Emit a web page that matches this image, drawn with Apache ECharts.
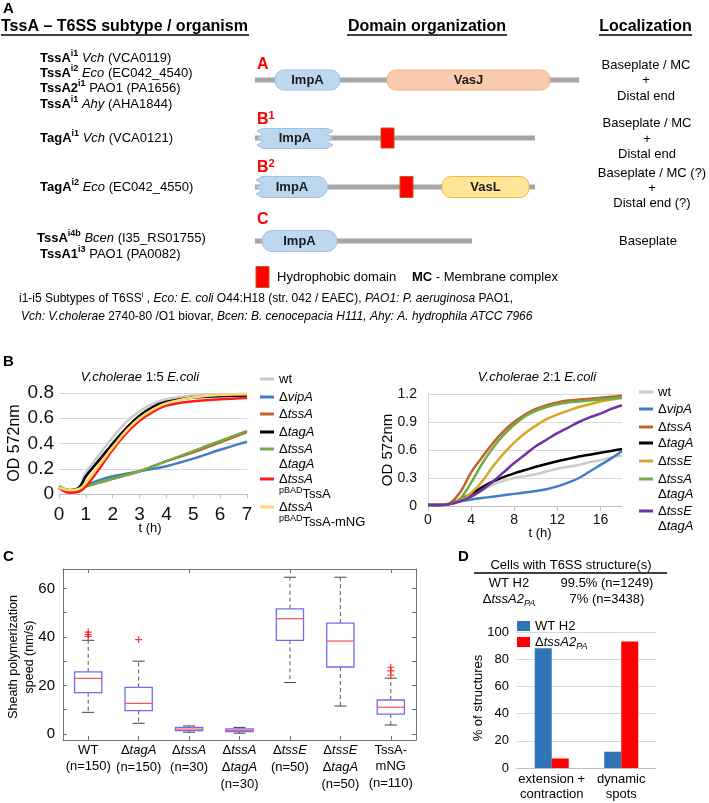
<!DOCTYPE html>
<html>
<head>
<meta charset="utf-8">
<title>TssA / TagA figure</title>
<script src="https://cdn.jsdelivr.net/npm/echarts@6.0.0/dist/echarts.min.js"></script>
<style>
  html, body { margin: 0; padding: 0; background: #fff; }
  #fig { width: 709px; height: 803px; }
</style>
</head>
<body>
<div id="fig"></div>
<script>
// ---------- data ----------
// B left: V.cholerae 1:5 E.coli, OD 572nm vs t (h)
const tLeft = [0, 0.4, 0.75, 1, 1.5, 2, 2.5, 3, 3.5, 4, 5, 6, 7];
const leftNames = ['wt', 'ΔvipA', 'ΔtssA', 'ΔtagA', 'ΔtssA ΔtagA', 'ΔtssA pBADTssA', 'ΔtssA pBADTssA-mNG'];
const leftWt       = [0.05, 0.03, 0.06, 0.17, 0.31, 0.45, 0.57, 0.655, 0.715, 0.75, 0.78, 0.79, 0.795];
const leftVipA     = [0.05, 0.03, 0.04, 0.07, 0.11, 0.14, 0.16, 0.18, 0.20, 0.22, 0.28, 0.35, 0.415];
const leftTssA     = [0.06, 0.03, 0.04, 0.06, 0.09, 0.12, 0.15, 0.18, 0.22, 0.26, 0.33, 0.41, 0.49];
const leftTagA     = [0.05, 0.03, 0.05, 0.14, 0.27, 0.40, 0.52, 0.62, 0.69, 0.73, 0.765, 0.775, 0.78];
const leftTssATagA = [0.06, 0.03, 0.04, 0.06, 0.09, 0.12, 0.15, 0.18, 0.22, 0.26, 0.34, 0.42, 0.50];
const leftPTssA    = [0.05, 0.01, 0.02, 0.06, 0.20, 0.35, 0.48, 0.58, 0.65, 0.70, 0.735, 0.75, 0.76];
const leftPTssAmNG = [0.05, 0.03, 0.04, 0.09, 0.23, 0.37, 0.50, 0.60, 0.67, 0.72, 0.765, 0.785, 0.79];

// B right: V.cholerae 2:1 E.coli
const tRight = [0, 1, 2, 3, 4, 5, 6, 7, 8, 9, 10, 11, 12, 13, 14, 15, 16, 17, 18];
const rightNames = ['wt', 'ΔvipA', 'ΔtssA', 'ΔtagA', 'ΔtssE', 'ΔtssA ΔtagA', 'ΔtssE ΔtagA'];
const rightWt       = [0.01, 0.01, 0.02, 0.06, 0.11, 0.17, 0.23, 0.27, 0.30, 0.32, 0.34, 0.37, 0.40, 0.42, 0.44, 0.47, 0.49, 0.52, 0.54];
const rightVipA     = [0.01, 0.01, 0.02, 0.05, 0.07, 0.085, 0.10, 0.115, 0.13, 0.145, 0.16, 0.18, 0.21, 0.25, 0.30, 0.37, 0.44, 0.51, 0.59];
const rightTssA     = [0.01, 0.01, 0.03, 0.15, 0.36, 0.52, 0.67, 0.80, 0.90, 0.98, 1.04, 1.08, 1.11, 1.13, 1.14, 1.15, 1.16, 1.17, 1.18];
const rightTagA     = [0.01, 0.01, 0.02, 0.07, 0.13, 0.20, 0.26, 0.31, 0.35, 0.385, 0.42, 0.45, 0.48, 0.505, 0.53, 0.55, 0.57, 0.59, 0.61];
const rightTssE     = [0.01, 0.01, 0.02, 0.06, 0.14, 0.26, 0.42, 0.56, 0.68, 0.78, 0.86, 0.93, 0.98, 1.02, 1.06, 1.09, 1.12, 1.14, 1.16];
const rightTssATagA = [0.01, 0.01, 0.02, 0.08, 0.25, 0.45, 0.62, 0.76, 0.87, 0.96, 1.02, 1.06, 1.09, 1.11, 1.12, 1.13, 1.14, 1.15, 1.16];
const rightTssETagA = [0.01, 0.01, 0.02, 0.05, 0.10, 0.17, 0.26, 0.36, 0.46, 0.55, 0.64, 0.71, 0.78, 0.84, 0.90, 0.95, 0.99, 1.04, 1.08];

// C: sheath polymerization speed (nm/s), box plot
const cCats = ['WT\n(n=150)', 'ΔtagA\n(n=150)', 'ΔtssA\n(n=30)', 'ΔtssA\nΔtagA\n(n=30)',
               'ΔtssE\n(n=50)', 'ΔtssE\nΔtagA\n(n=50)', 'TssA-\nmNG\n(n=110)'];
const cLow  = [8.9, 4.4, 0.7, 0.3, 21.2, 11.5, 3.7];
const cQ1   = [17.0, 9.6, 1.4, 1.0, 38.6, 27.6, 8.2];
const cMed  = [22.9, 12.6, 2.0, 1.5, 47.5, 38.3, 11.0];
const cQ3   = [25.6, 19.2, 2.7, 2.05, 51.6, 45.7, 14.0];
const cHigh = [38.6, 30.0, 3.3, 2.7, 64.6, 64.6, 23.0];
const cOutCat = [0, 0, 0, 1, 6, 6, 6];
const cOutVal = [40.2, 41.0, 42.0, 38.9, 24.2, 26.0, 27.5];
const cTicks = [0, 10, 20, 30, 40, 50, 60];
const cLabels = [0, 20, 40, 60];

// D: % of structures
const dCats = ['extension +\ncontraction', 'dynamic\nspots'];
const dNames = ['WT H2', 'ΔtssA2_PA'];
const dWt = [88, 12];
const dTssA2 = [7, 93];
const tableGroups = ['WT H2', 'ΔtssA2_PA'];
const tableValues = ['99.5% (n=1249)', '7% (n=3438)'];

// ---------- styling helpers ----------
const FF = '"Liberation Sans", Arial, Helvetica, sans-serif';
const leftColors = ['#c9c9c9', '#3f7ec4', '#c4622d', '#000000', '#6fac46', '#ff1a1a', '#ffd966'];
const rightColors = ['#cccccc', '#3f7ec4', '#c4622d', '#000000', '#d8a526', '#6fac46', '#7232a6'];

function rich(size) {
  const s = Math.round(size * 0.7);
  const lh = size + 4;
  return {
    i: {fontSize: size, fontFamily: FF, fontStyle: 'italic', lineHeight: lh},
    b: {fontSize: size, fontFamily: FF, fontWeight: 'bold', lineHeight: lh},
    sup: {fontSize: s, fontFamily: FF, verticalAlign: 'top', lineHeight: s},
    bsup: {fontSize: s, fontFamily: FF, fontWeight: 'bold', verticalAlign: 'top', lineHeight: s},
    isub: {fontSize: s, fontFamily: FF, fontStyle: 'italic', verticalAlign: 'bottom', lineHeight: s},
    rsup: {fontSize: 11, fontFamily: FF, fontWeight: 'bold', fill: '#ff0000', verticalAlign: 'top', lineHeight: 10}
  };
}

// Δgene -> italic gene, _XX -> italic subscript, pBAD -> superscript
function fmtGene(s) {
  return s.split('\n').map(function (line) {
    return line.split(' ').map(function (w) {
      if (w.charAt(0) === 'Δ') {
        let g = w.slice(1), sub = '';
        const k = g.indexOf('_');
        if (k >= 0) { sub = '{isub|' + g.slice(k + 1) + '}'; g = g.slice(0, k); }
        return 'Δ{i|' + g + '}' + sub;
      }
      if (w.indexOf('pBAD') === 0) return '{sup|pBAD}' + w.slice(4);
      return w;
    }).join(' ');
  }).join('\n');
}

function T(x, y, text, size, extra) {
  return {
    type: 'text', x: x, y: y, silent: true,
    style: Object.assign({
      text: text, fontSize: size, fontFamily: FF, fill: '#000',
      lineHeight: size + 4, align: 'left', verticalAlign: 'middle', rich: rich(size)
    }, extra || {})
  };
}
function TV(x, y, text, size) {
  const t = T(x, y, text, size, {align: 'center'});
  t.rotation = Math.PI / 2;
  return t;
}
function L(x1, y1, x2, y2, color, w) {
  return {type: 'line', silent: true, shape: {x1: x1, y1: y1, x2: x2, y2: y2}, style: {stroke: color, lineWidth: w}};
}
function R(x, y, w, h, r, fill, stroke) {
  return {type: 'rect', silent: true, shape: {x: x, y: y, width: w, height: h, r: r},
          style: {fill: fill, stroke: stroke, lineWidth: stroke ? 1 : 0}};
}

// ---------- panel A (schematic) ----------
const IMP_FILL = '#bdd7ee', IMP_LINE = '#9cc2e5', BAR = '#a6a6a6';
const g = [];
g.push(T(3, 9, 'A', 15, {fontWeight: 'bold'}));
g.push(T(1, 27, 'TssA – T6SS subtype / organism', 16, {fontWeight: 'bold'}));
g.push(T(427, 27, 'Domain organization', 16, {fontWeight: 'bold', align: 'center'}));
g.push(T(645.5, 27, 'Localization', 16, {fontWeight: 'bold', align: 'center'}));
g.push(L(1, 35, 249, 35, '#000', 1.5), L(347, 35, 507, 35, '#000', 1.5), L(599, 35, 692, 35, '#000', 1.5));

const orgRows = [
  [40, 58, '{b|TssA}{bsup|i1} {i|Vch} (VCA0119)'],
  [40, 73, '{b|TssA}{bsup|i2} {i|Eco} (EC042_4540)'],
  [40, 88, '{b|TssA2}{bsup|i1} PAO1 (PA1656)'],
  [40, 104, '{b|TssA}{bsup|i1} {i|Ahy} (AHA1844)'],
  [40, 138, '{b|TagA}{bsup|i1} {i|Vch} (VCA0121)'],
  [40, 187, '{b|TagA}{bsup|i2} {i|Eco} (EC042_4550)'],
  [37, 238, '{b|TssA}{bsup|i4b} {i|Bcen} (I35_RS01755)'],
  [40, 254, '{b|TssA1}{bsup|i3} PAO1 (PA0082)']
];
orgRows.forEach(function (r) { g.push(T(r[0], r[1], r[2], 13)); });

const locRows = [
  [646, 65, 'Baseplate / MC'], [646, 80, '+'], [646, 96, 'Distal end'],
  [647, 123, 'Baseplate / MC'], [647, 139, '+'], [647, 154, 'Distal end'],
  [652, 173, 'Baseplate / MC (?)'], [652, 188, '+'], [652, 203, 'Distal end (?)'],
  [648, 241, 'Baseplate']
];
locRows.forEach(function (r) { g.push(T(r[0], r[1], r[2], 13, {align: 'center'})); });

// red class labels
g.push(T(257, 65, 'A', 16, {fontWeight: 'bold', fill: '#ff0000'}));
g.push(T(257, 120, 'B{rsup|1}', 16, {fontWeight: 'bold', fill: '#ff0000'}));
g.push(T(257, 168, 'B{rsup|2}', 16, {fontWeight: 'bold', fill: '#ff0000'}));
g.push(T(257, 220, 'C', 16, {fontWeight: 'bold', fill: '#ff0000'}));

// row A
g.push(R(255, 77.5, 324, 5, 0, BAR));
g.push(R(275, 70, 65, 20, 9, IMP_FILL, IMP_LINE));
g.push(R(387, 70, 163, 20, 9, '#f8cbad', '#f4b183'));
g.push(T(307.5, 80, 'ImpA', 13, {fontWeight: 'bold', align: 'center', fill: '#1a1a1a'}));
g.push(T(468.5, 80, 'VasJ', 13, {fontWeight: 'bold', align: 'center', fill: '#1a1a1a'}));
// row B1
g.push(R(255, 135.5, 280, 5, 0, BAR));
g.push({type: 'polygon', silent: true, shape: {points: [
  [263, 128.5], [327, 128.5], [333, 131], [327, 134.5], [333, 138], [327, 141.5], [333, 145], [327, 148.5],
  [263, 148.5], [257, 145], [263, 141.5], [257, 138], [263, 134.5], [257, 131]]},
  style: {fill: IMP_FILL, stroke: IMP_LINE, lineWidth: 1}});
g.push(T(295, 138.5, 'ImpA', 13, {fontWeight: 'bold', align: 'center', fill: '#1a1a1a'}));
g.push(R(381, 128, 13, 20, 0, '#ff0000', '#c55a11'));
// row B2
g.push(R(255, 184.5, 280, 5, 0, BAR));
const b2pts = [[262, 176.5], [317, 176.5]];
for (let a = -75; a <= 75; a += 15) {
  const rad = a * Math.PI / 180;
  b2pts.push([317 + 10.5 * Math.cos(rad), 187 + 10.5 * Math.sin(rad)]);
}
b2pts.push([317, 197.5], [262, 197.5], [256, 194], [262, 190.5], [256, 187], [262, 183.5], [256, 180]);
g.push({type: 'polygon', silent: true, shape: {points: b2pts}, style: {fill: IMP_FILL, stroke: IMP_LINE, lineWidth: 1}});
g.push(T(292, 187, 'ImpA', 13, {fontWeight: 'bold', align: 'center', fill: '#1a1a1a'}));
g.push(R(400, 176.5, 13, 21, 0, '#ff0000', '#c55a11'));
g.push(R(442, 176.5, 87, 21, 9, '#ffe699', '#f2b94a'));
g.push(T(485.5, 187, 'VasL', 13, {fontWeight: 'bold', align: 'center', fill: '#1a1a1a'}));
// row C
g.push(R(255, 238.5, 217, 5, 0, BAR));
g.push(R(262, 230.5, 75, 21, 10, IMP_FILL, IMP_LINE));
g.push(T(299.5, 241, 'ImpA', 13, {fontWeight: 'bold', align: 'center', fill: '#1a1a1a'}));
// key
g.push(R(256, 266.5, 13, 21, 0, '#ff0000', '#c55a11'));
g.push(T(277, 277, 'Hydrophobic domain', 13));
g.push(T(412, 277, '{b|MC} - Membrane complex', 13));
// footnote
g.push(T(19, 299, 'i1-i5 Subtypes of T6SS{sup|i} , {i|Eco: E. coli} O44:H18 (str. 042 / EAEC), {i|PAO1: P. aeruginosa} PAO1,', 12));
g.push(T(21, 317, '{i|Vch: V.cholerae} 2740-80 /O1 biovar, {i|Bcen: B. cenocepacia H111, Ahy: A. hydrophila ATCC 7966}', 12));

// ---------- panel B text ----------
g.push(T(3, 362, 'B', 15, {fontWeight: 'bold'}));
g.push(T(140, 377, '{i|V.cholerae} 1:5 {i|E.coli}', 13, {align: 'center'}));
g.push(T(537, 377, '{i|V.cholerae} 2:1 {i|E.coli}', 13, {align: 'center'}));
g.push(TV(15, 443, 'OD 572nm', 16));
g.push(TV(388, 450, 'OD 572nm', 15));
g.push(T(150, 528, 't (h)', 13, {align: 'center'}));
g.push(T(540, 533, 't (h)', 13, {align: 'center'}));

function legendBlock(x, ys, names, colors) {
  names.forEach(function (nm, k) {
    g.push(L(x, ys[k], x + 14, ys[k], colors[k], 3));
    nm.split(' ').forEach(function (part, j) {
      g.push(T(x + 19, ys[k] + j * 15.5, fmtGene(part), 13));
    });
  });
}
legendBlock(260, [379, 397, 414, 432, 449, 479, 507], leftNames, leftColors);
legendBlock(639, [392, 409, 427, 443, 461, 479, 511], rightNames, rightColors);

// ---------- panel C / D text ----------
g.push(T(3, 557, 'C', 15, {fontWeight: 'bold'}));
g.push(TV(14, 657, 'Sheath polymerization', 12.5));
g.push(TV(30, 657, 'speed (nm/s)', 12.5));

g.push(T(458, 557, 'D', 15, {fontWeight: 'bold'}));
g.push(T(571, 565, 'Cells with T6SS structure(s)', 13, {align: 'center'}));
g.push(L(474, 573, 667, 573, '#000', 1.5));
tableGroups.forEach(function (nm, k) {
  g.push(T(509, 583 + k * 16, fmtGene(nm), 13, {align: 'center'}));
  g.push(T(607, 583 + k * 16, tableValues[k], 13, {align: 'center'}));
});
g.push(TV(478, 698, '% of structures', 13));

// ---------- box plot renderer ----------
function renderBox(params, api) {
  const i = api.value(0);
  const band = api.size([1, 0])[0];
  const lo = api.coord([i, api.value(1)]);
  const q1 = api.coord([i, api.value(2)]);
  const md = api.coord([i, api.value(3)]);
  const q3 = api.coord([i, api.value(4)]);
  const hi = api.coord([i, api.value(5)]);
  const x = lo[0], hw = band * 0.27, cw = band * 0.12;
  return {type: 'group', children: [
    {type: 'line', shape: {x1: x, y1: q3[1], x2: x, y2: hi[1]}, style: {stroke: '#555', lineWidth: 1, lineDash: [4, 3]}},
    {type: 'line', shape: {x1: x, y1: q1[1], x2: x, y2: lo[1]}, style: {stroke: '#555', lineWidth: 1, lineDash: [4, 3]}},
    {type: 'line', shape: {x1: x - cw, y1: hi[1], x2: x + cw, y2: hi[1]}, style: {stroke: '#444', lineWidth: 1}},
    {type: 'line', shape: {x1: x - cw, y1: lo[1], x2: x + cw, y2: lo[1]}, style: {stroke: '#444', lineWidth: 1}},
    {type: 'rect', shape: {x: x - hw, y: q3[1], width: hw * 2, height: q1[1] - q3[1]},
     style: {fill: '#fff', stroke: '#6d6df2', lineWidth: 1.3}},
    {type: 'line', shape: {x1: x - hw, y1: md[1], x2: x + hw, y2: md[1]}, style: {stroke: '#ff5050', lineWidth: 1.2}}
  ]};
}

// ---------- series ----------
const leftValues = [leftWt, leftVipA, leftTssA, leftTagA, leftTssATagA, leftPTssA, leftPTssAmNG];
const rightValues = [rightWt, rightVipA, rightTssA, rightTagA, rightTssE, rightTssATagA, rightTssETagA];
const series = [];
leftValues.forEach(function (vals, k) {
  series.push({
    type: 'line', name: leftNames[k], xAxisIndex: 0, yAxisIndex: 0,
    data: tLeft.map(function (t, j) { return [t, vals[j]]; }),
    smooth: 0.4, showSymbol: false, silent: true,
    lineStyle: {width: 2.5, color: leftColors[k]}, itemStyle: {color: leftColors[k]}
  });
});
rightValues.forEach(function (vals, k) {
  series.push({
    type: 'line', name: rightNames[k], xAxisIndex: 1, yAxisIndex: 1,
    data: tRight.map(function (t, j) { return [t, vals[j]]; }),
    smooth: 0.4, showSymbol: false, silent: true,
    lineStyle: {width: 2.5, color: rightColors[k]}, itemStyle: {color: rightColors[k]}
  });
});
series.push({
  type: 'custom', name: 'speed', xAxisIndex: 2, yAxisIndex: 2, silent: true,
  data: cCats.map(function (c, i) { return [i, cLow[i], cQ1[i], cMed[i], cQ3[i], cHigh[i]]; }),
  encode: {x: 0, y: [1, 2, 3, 4, 5]},
  renderItem: renderBox
});
series.push({
  type: 'scatter', name: 'outliers', xAxisIndex: 2, yAxisIndex: 2, silent: true,
  data: cOutCat.map(function (c, k) { return [c, cOutVal[k]]; }),
  symbol: 'path://M0,5L10,5M5,0L5,10', symbolSize: 7,
  itemStyle: {color: 'transparent', borderColor: '#ff0000', borderWidth: 1.2}
});
series.push({type: 'bar', name: dNames[0], xAxisIndex: 4, yAxisIndex: 4, data: dWt,
  barWidth: 17, barGap: '0%', itemStyle: {color: '#2f74b5'}, silent: true});
series.push({type: 'bar', name: dNames[1], xAxisIndex: 4, yAxisIndex: 4, data: dTssA2,
  barWidth: 17, barGap: '0%', itemStyle: {color: '#ff0000'}, silent: true});

// ---------- axes ----------
const frame = {show: true, onZero: false, lineStyle: {color: '#707070', width: 1}};
const frameTick = function (vals) {
  const t = {show: true, inside: true, length: 4, lineStyle: {color: '#707070'}};
  if (vals) t.customValues = vals; else t.alignWithLabel = true;
  return t;
};
const option = {
  animation: false,
  backgroundColor: '#fff',
  textStyle: {fontFamily: FF, color: '#000'},
  graphic: {elements: g},
  legend: {
    data: dNames, left: 517, top: 619.5, padding: 0, orient: 'vertical',
    itemWidth: 13, itemHeight: 10, itemGap: 1, icon: 'rect',
    textStyle: {fontSize: 13, fontFamily: FF, color: '#000', lineHeight: 13, rich: rich(13)},
    formatter: fmtGene, selectedMode: false
  },
  grid: [
    {left: 59, top: 393, width: 188, height: 101, outerBoundsMode: 'none'},
    {left: 428, top: 394, width: 194, height: 112, outerBoundsMode: 'none'},
    {left: 63, top: 569, width: 353, height: 171, outerBoundsMode: 'none'},
    {left: 517, top: 632, width: 139, height: 136, outerBoundsMode: 'none'}
  ],
  xAxis: [
    {gridIndex: 0, type: 'value', min: 0, max: 7, interval: 1,
     axisLine: {show: true, lineStyle: {color: '#bfbfbf'}},
     axisTick: {show: true, length: 4, lineStyle: {color: '#bfbfbf'}},
     axisLabel: {fontSize: 19, color: '#111', margin: 11}, splitLine: {show: false}},
    {gridIndex: 1, type: 'value', min: 0, max: 18,
     axisLine: {show: true, lineStyle: {color: '#bfbfbf'}},
     axisTick: {show: true, length: 5, lineStyle: {color: '#bfbfbf'}, customValues: [0, 4, 8, 12, 16]},
     axisLabel: {fontSize: 14, color: '#111', margin: 7, customValues: [0, 4, 8, 12, 16]},
     splitLine: {show: false}},
    {gridIndex: 2, type: 'category', data: cCats, position: 'bottom',
     axisLine: frame, axisTick: frameTick(),
     axisLabel: {interval: 0, fontSize: 13, color: '#000', margin: 2, lineHeight: 16.5,
                 formatter: fmtGene, rich: rich(13)}},
    {gridIndex: 2, type: 'category', data: cCats, position: 'top',
     axisLine: frame, axisTick: frameTick(), axisLabel: {show: false}},
    {gridIndex: 3, type: 'category', data: dCats,
     axisLine: {show: true, lineStyle: {color: '#bfbfbf'}}, axisTick: {show: false},
     axisLabel: {interval: 0, fontSize: 13, color: '#000', margin: 4, lineHeight: 15}}
  ],
  yAxis: [
    {gridIndex: 0, type: 'value', min: 0, max: 0.8, interval: 0.2,
     axisLine: {show: false}, axisTick: {show: false},
     axisLabel: {fontSize: 19, color: '#111', margin: 5},
     splitLine: {show: true, lineStyle: {color: '#d9d9d9'}}},
    {gridIndex: 1, type: 'value', min: 0, max: 1.2, interval: 0.3,
     axisLine: {show: true, lineStyle: {color: '#d9d9d9'}}, axisTick: {show: false},
     axisLabel: {fontSize: 14, color: '#111', margin: 11},
     splitLine: {show: true, lineStyle: {color: '#d9d9d9'}}},
    {gridIndex: 2, type: 'value', min: -2.5, max: 68, position: 'left',
     axisLine: frame, axisTick: frameTick(cTicks),
     axisLabel: {fontSize: 15, color: '#000', margin: 8, customValues: cLabels},
     splitLine: {show: false}},
    {gridIndex: 2, type: 'value', min: -2.5, max: 68, position: 'right',
     axisLine: frame, axisTick: frameTick(cTicks),
     axisLabel: {show: false}, splitLine: {show: false}},
    {gridIndex: 3, type: 'value', min: 0, max: 100, interval: 20,
     axisLine: {show: false}, axisTick: {show: false},
     axisLabel: {fontSize: 13, color: '#000', margin: 8},
     splitLine: {show: true, lineStyle: {color: '#d9d9d9'}}}
  ],
  series: series
};

const chart = echarts.init(document.getElementById('fig'), null, {renderer: 'canvas'});
chart.setOption(option);
</script>
</body>
</html>
